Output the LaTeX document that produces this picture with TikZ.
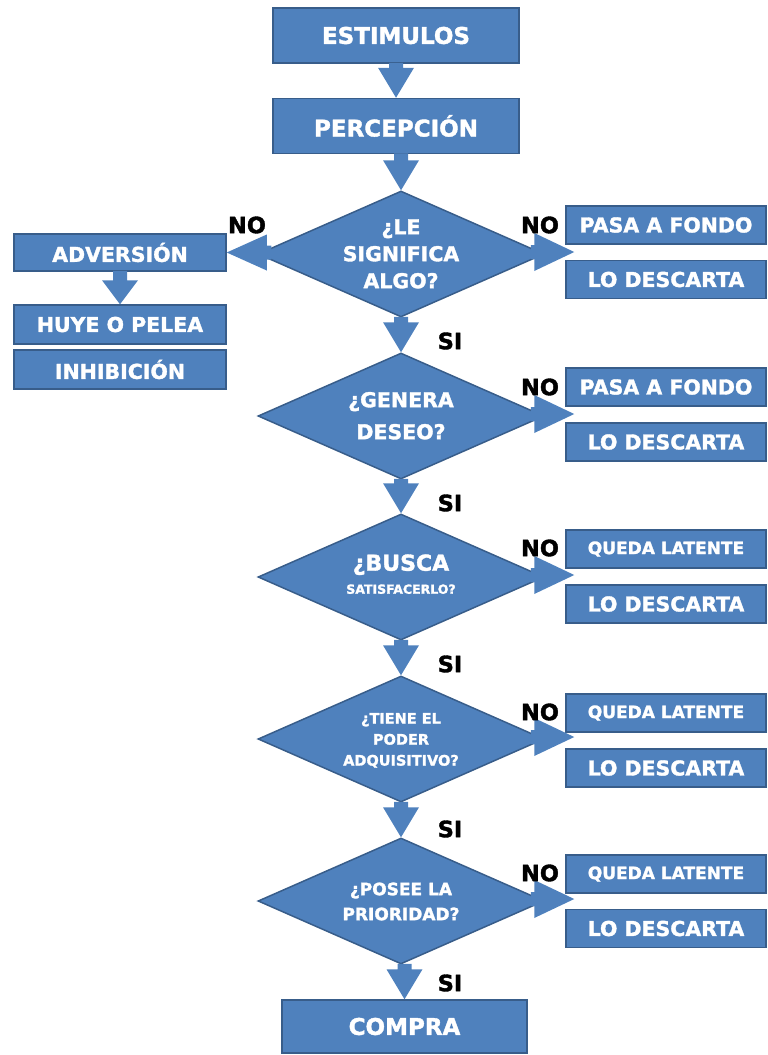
\documentclass[tikz,border=0pt]{standalone}
\usepackage{fontspec}
\setmainfont{DejaVu Sans}[BoldFeatures={FakeBold=1.6}]
\usetikzlibrary{shapes.geometric,calc}

\definecolor{azul}{HTML}{4F81BD}
\definecolor{azulborde}{HTML}{385D8A}

% texto centrado dentro de un rombo, sin agrandarlo
\newcommand{\pregunta}[2][-7pt]{\smash{\raisebox{#1}{\begin{tabular}{@{}c@{}}#2\end{tabular}}}}

% flecha gruesa hacia abajo: de #2 a #3, punta de largo #1
\newcommand{\flechaV}[3][30]{%
  \fill[flecha] ($(#2.south -| #3.north)+(-7,-1)$) -- ($(#3.north)+(-7,-#1)$)
    -- ($(#3.north)+(-18,-#1)$) -- (#3.north) -- ($(#3.north)+(18,-#1)$)
    -- ($(#3.north)+(7,-#1)$) -- ($(#2.south -| #3.north)+(7,-1)$) -- cycle;}

% flecha a la derecha: del rombo #1 al hueco bajo la caja #2
\newcommand{\flechaD}[2]{%
  \coordinate (punta) at ($(#2.west |- #1.east)+(9,-2)$);
  \fill[flecha] ($(punta -| #1.east)+(-14,-7)$) -- ($(punta)+(-40,-7)$)
    -- ($(punta)+(-40,-19)$) -- (punta) -- ($(punta)+(-40,19)$)
    -- ($(punta)+(-40,7)$) -- ($(punta -| #1.east)+(-14,7)$) -- cycle;}

% flecha a la izquierda: del rombo #1 a la caja #2
\newcommand{\flechaI}[2]{%
  \fill[flecha] ($(#2.east -| #1.west)+(14,-7)$) -- ($(#2.east)+(40,-7)$)
    -- ($(#2.east)+(40,-18)$) -- (#2.east) -- ($(#2.east)+(40,18)$)
    -- ($(#2.east)+(40,7)$) -- ($(#2.east -| #1.west)+(14,7)$) -- cycle;}

\begin{document}
\begin{tikzpicture}[x=1pt, y=-1pt]
\tikzset{
    every node/.style={align=center},
    caja/.style={draw=azulborde, line width=1.5pt, fill=azul, text=white,
        inner sep=0pt, font=\bfseries\fontsize{20.5}{24}\selectfont},
    grande/.style={caja, minimum width=246pt, minimum height=55pt,
        font=\bfseries\fontsize{23}{27}\selectfont},
    lateral/.style={caja, minimum width=200pt, minimum height=38pt},
    izquierda/.style={caja, minimum width=212pt, minimum height=38pt},
    rombo/.style={diamond, draw=azulborde, line width=1.5pt, fill=azul, text=white,
        inner sep=0pt, minimum width=286pt, minimum height=126pt,
        font=\bfseries\fontsize{20.5}{27}\selectfont},
    etiqueta/.style={inner sep=0pt, font=\bfseries\fontsize{22.5}{24}\selectfont},
    flecha/.style={fill=azul}
}
\useasboundingbox (0,0) rectangle (768,1055);

% columna central
\node[grande] (estim) at (396,35.5) {ESTIMULOS};
\node[grande] (percep) at (396,126) {PERCEPCIÓN};
\node[rombo] (d1) at (401,254) {\pregunta{¿LE\\SIGNIFICA\\ALGO?}};
\node[rombo] (d2) at (401,416) {\pregunta{¿GENERA\\[5pt]DESEO?}};
\node[rombo] (d3) at (401,577) {\pregunta[-5pt]{{\fontsize{22}{24}\selectfont ¿BUSCA}\\[-4pt]
    {\fontsize{12.5}{14}\selectfont SATISFACERLO?}}};
\node[rombo, font=\bfseries\fontsize{14.5}{21}\selectfont] (d4) at (401,739)
    {\pregunta[-5pt]{¿TIENE EL\\PODER\\ADQUISITIVO?}};
\node[rombo, font=\bfseries\fontsize{17}{25}\selectfont] (d5) at (401,901)
    {\pregunta[-6pt]{¿POSEE LA\\PRIORIDAD?}};
\node[grande, minimum width=245pt, minimum height=53pt] (compra) at (404.5,1026.5) {COMPRA};

% rama izquierda
\node[izquierda, minimum height=37pt] (adv) at (120,252.5) {ADVERSIÓN};
\node[izquierda, minimum height=39pt] (huye) at (120,324.5) {HUYE O PELEA};
\node[izquierda, minimum height=39pt] (inhib) at (120,369.5) {INHIBICIÓN};

% cajas de la derecha
\node[lateral] (p1) at (666,225) {PASA A FONDO};
\node[lateral] (l1) at (666,279.5) {LO DESCARTA};
\node[lateral] (p2) at (666,387) {PASA A FONDO};
\node[lateral] (l2) at (666,442) {LO DESCARTA};
\node[lateral, font=\bfseries\fontsize{17}{20}\selectfont] (q3) at (666,549) {QUEDA LATENTE};
\node[lateral] (l3) at (666,604) {LO DESCARTA};
\node[lateral, font=\bfseries\fontsize{17}{20}\selectfont] (q4) at (666,713) {QUEDA LATENTE};
\node[lateral] (l4) at (666,768) {LO DESCARTA};
\node[lateral, font=\bfseries\fontsize{17}{20}\selectfont] (q5) at (666,874) {QUEDA LATENTE};
\node[lateral] (l5) at (666,928.5) {LO DESCARTA};

% flechas
\flechaV{estim}{percep}
\flechaV{percep}{d1}
\flechaV{d1}{d2}
\flechaV{d2}{d3}
\flechaV{d3}{d4}
\flechaV{d4}{d5}
\flechaV{d5}{compra}
\flechaV[24]{adv}{huye}
\flechaI{d1}{adv}
\flechaD{d1}{p1}
\flechaD{d2}{p2}
\flechaD{d3}{q3}
\flechaD{d4}{q4}
\flechaD{d5}{q5}

% etiquetas
\node[etiqueta] (no0) at (247,225) {NO};
\node[etiqueta] (no1) at (540,225) {NO};
\node[etiqueta] (no2) at (540,387) {NO};
\node[etiqueta] (no3) at (540,548) {NO};
\node[etiqueta] (no4) at (540,712) {NO};
\node[etiqueta] (no5) at (540,873) {NO};
\node[etiqueta] (si1) at (450,341) {SI};
\node[etiqueta] (si2) at (450,503) {SI};
\node[etiqueta] (si3) at (450,664) {SI};
\node[etiqueta] (si4) at (450,829) {SI};
\node[etiqueta] (si5) at (450,983) {SI};
\end{tikzpicture}
\end{document}
